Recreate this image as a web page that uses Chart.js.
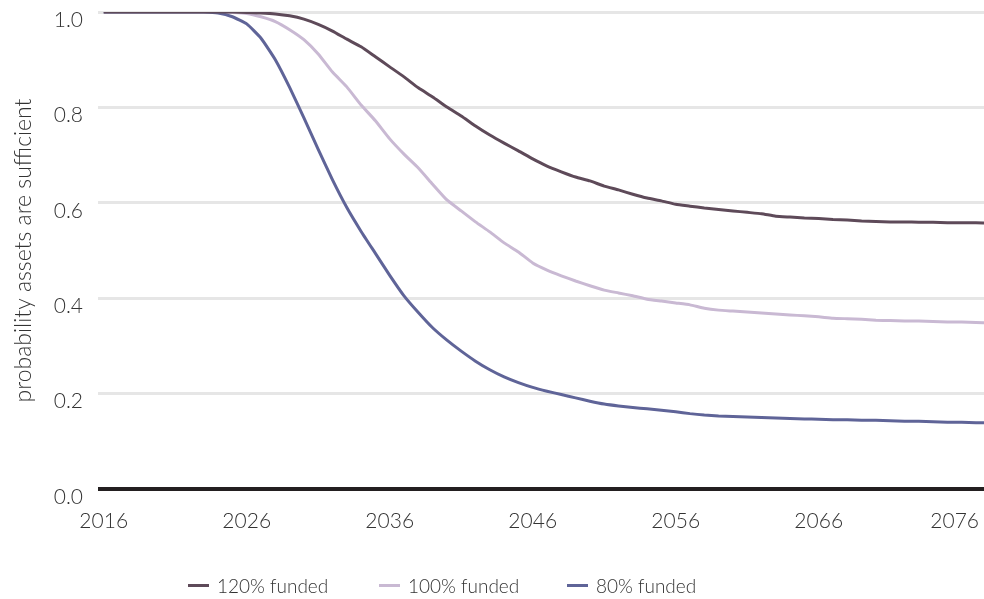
<!DOCTYPE html>
<html>
<head>
<meta charset="utf-8">
<script src="https://cdn.jsdelivr.net/npm/chart.js@4.4.1/dist/chart.umd.min.js"></script>
<style>
  html, body { margin: 0; padding: 0; background: #fff; }
  body { width: 984px; height: 599px; overflow: hidden; position: relative;
         font-family: Lato, "Open Sans", sans-serif; font-weight: 300; color: #333; }
  #wrap { position: absolute; left: 0; top: 0; width: 984px; height: 599px; }
  #legend { position: absolute; left: 188px; top: 572px; height: 26px; display: flex; align-items: center; }
  .legend-item { display: flex; align-items: center; font-size: 19px; white-space: nowrap; }
  .legend-swatch { display: inline-block; width: 21px; height: 3px; margin-right: 8px; }
</style>
</head>
<body>
<div id="wrap"><canvas id="chart"></canvas></div>
<div id="legend"></div>

<script>
/* ---- données ---- */
const years = [
  2016, 2017, 2018, 2019, 2020, 2021, 2022, 2023, 2024, 2025,
  2026, 2027, 2028, 2029, 2030, 2031, 2032, 2033, 2034, 2035,
  2036, 2037, 2038, 2039, 2040, 2041, 2042, 2043, 2044, 2045,
  2046, 2047, 2048, 2049, 2050, 2051, 2052, 2053, 2054, 2055,
  2056, 2057, 2058, 2059, 2060, 2061, 2062, 2063, 2064, 2065,
  2066, 2067, 2068, 2069, 2070, 2071, 2072, 2073, 2074, 2075,
  2076, 2077, 2078
];

const funded120 = [
  1.0, 1.0, 1.0, 1.0, 1.0, 1.0, 1.0, 1.0, 1.0, 1.0,
  0.999, 0.998, 0.996, 0.992, 0.985, 0.974, 0.960, 0.943, 0.927, 0.906,
  0.885, 0.864, 0.841, 0.822, 0.801, 0.782, 0.761, 0.742, 0.725, 0.709,
  0.692, 0.677, 0.665, 0.654, 0.646, 0.635, 0.627, 0.618, 0.610, 0.604,
  0.597, 0.593, 0.589, 0.586, 0.583, 0.580, 0.577, 0.572, 0.570, 0.568,
  0.567, 0.565, 0.564, 0.562, 0.561, 0.560, 0.560, 0.559, 0.559, 0.558,
  0.558, 0.558, 0.557
];

const funded100 = [
  1.0, 1.0, 1.0, 1.0, 1.0, 1.0, 1.0, 1.0, 1.0, 0.999,
  0.997, 0.990, 0.980, 0.963, 0.942, 0.912, 0.874, 0.843, 0.805, 0.772,
  0.734, 0.702, 0.673, 0.639, 0.606, 0.583, 0.560, 0.539, 0.516, 0.497,
  0.474, 0.459, 0.447, 0.436, 0.426, 0.417, 0.411, 0.405, 0.398, 0.394,
  0.390, 0.386, 0.379, 0.375, 0.373, 0.371, 0.369, 0.367, 0.365, 0.363,
  0.361, 0.358, 0.357, 0.356, 0.354, 0.353, 0.352, 0.352, 0.351, 0.350,
  0.350, 0.349, 0.348
];

const funded80 = [
  1.0, 1.0, 1.0, 1.0, 1.0, 1.0, 1.0, 1.0, 0.998, 0.990,
  0.975, 0.945, 0.900, 0.842, 0.778, 0.712, 0.648, 0.590, 0.540, 0.494,
  0.448, 0.405, 0.370, 0.338, 0.312, 0.289, 0.268, 0.250, 0.235, 0.223,
  0.213, 0.205, 0.198, 0.191, 0.184, 0.178, 0.174, 0.171, 0.168, 0.165,
  0.162, 0.158, 0.155, 0.153, 0.152, 0.151, 0.150, 0.149, 0.148, 0.147,
  0.146, 0.145, 0.145, 0.144, 0.144, 0.143, 0.142, 0.142, 0.141, 0.140,
  0.140, 0.139, 0.139
];

const xTickYears = [2016, 2026, 2036, 2046, 2056, 2066, 2076];
const yTicks     = [0.0, 0.2, 0.4, 0.6, 0.8, 1.0];

const seriesLabels = ['120% funded', '100% funded', '80% funded'];
const seriesColors = ['#5e4a59', '#c9b9d3', '#5f6498'];
const legendLeft   = [188, 379, 567];

/* ---- police ---- */
Chart.defaults.font.family = 'Lato, "Open Sans", sans-serif';
Chart.defaults.font.weight = '300';
Chart.defaults.font.size   = 21;
Chart.defaults.color       = '#333333';

/* libellés de l'axe X dessinés à la main (le dernier reste dans le cadre) */
const xLabelsPlugin = {
  id: 'xLabels',
  afterDraw(chart) {
    const ctx = chart.ctx;
    const sx  = chart.scales.x;
    const bottom = chart.chartArea.bottom;
    ctx.save();
    ctx.font = '300 21px Lato, "Open Sans", sans-serif';
    ctx.fillStyle = '#333333';
    ctx.textBaseline = 'middle';
    ctx.textAlign = 'left';
    xTickYears.forEach(function (yr) {
      const txt = String(yr);
      const w   = ctx.measureText(txt).width;
      let left  = sx.getPixelForValue(yr) - w / 2;
      if (left + w > chart.width - 5) left = chart.width - 5 - w;
      ctx.fillText(txt, left, bottom + 32);
    });
    ctx.restore();
  }
};

const datasets = [funded120, funded100, funded80].map(function (vals, i) {
  return {
    label: seriesLabels[i],
    data: years.map((y, k) => ({ x: y, y: vals[k] })),
    borderColor: seriesColors[i],
    backgroundColor: seriesColors[i],
    borderWidth: 3,
    pointRadius: 0,
    tension: 0.15,
    order: i === 0 ? 0 : (i === 1 ? 2 : 1)
  };
});

new Chart(document.getElementById('chart'), {
  type: 'line',
  data: { datasets: datasets },
  plugins: [xLabelsPlugin],
  options: {
    responsive: true,
    maintainAspectRatio: false,
    animation: false,
    layout: { padding: { top: 12, right: 0, left: 0, bottom: 0 } },
    plugins: {
      legend: { display: false },
      tooltip: { enabled: false }
    },
    scales: {
      x: {
        type: 'linear',
        min: 2015.6,
        max: 2077.56,
        grid: { display: false },
        border: { display: false },
        ticks: { display: false },
        afterFit: function (s) { s.height = 110; s.paddingLeft = 0; s.paddingRight = 0; }
      },
      y: {
        min: 0,
        max: 1,
        afterBuildTicks: function (s) { s.ticks = yTicks.map(v => ({ value: v })); },
        ticks: {
          padding: 15,
          labelOffset: 8,
          callback: function (v) { return Number(v).toFixed(1); }
        },
        grid: {
          drawTicks: false,
          color: function (c) { return c.tick && c.tick.value === 0 ? '#231f20' : '#e6e6e6'; },
          lineWidth: function (c) { return c.tick && c.tick.value === 0 ? 4 : 3; }
        },
        border: { display: false },
        title: {
          display: true,
          text: 'probability assets are sufficient',
          font: { size: 23, weight: '300' },
          padding: { top: 10, bottom: 0 }
        },
        afterFit: function (s) { s.width = 98; s.paddingTop = 0; s.paddingBottom = 0; }
      }
    }
  }
});

/* légende HTML */
const legendEl = document.getElementById('legend');
seriesLabels.forEach(function (lbl, i) {
  const item = document.createElement('div');
  item.className = 'legend-item';
  item.style.position = 'absolute';
  item.style.left = (legendLeft[i] - 188) + 'px';
  item.innerHTML = '<span class="legend-swatch" style="background:' + seriesColors[i] + '"></span><span>' + lbl + '</span>';
  legendEl.appendChild(item);
});
</script>
</body>
</html>
